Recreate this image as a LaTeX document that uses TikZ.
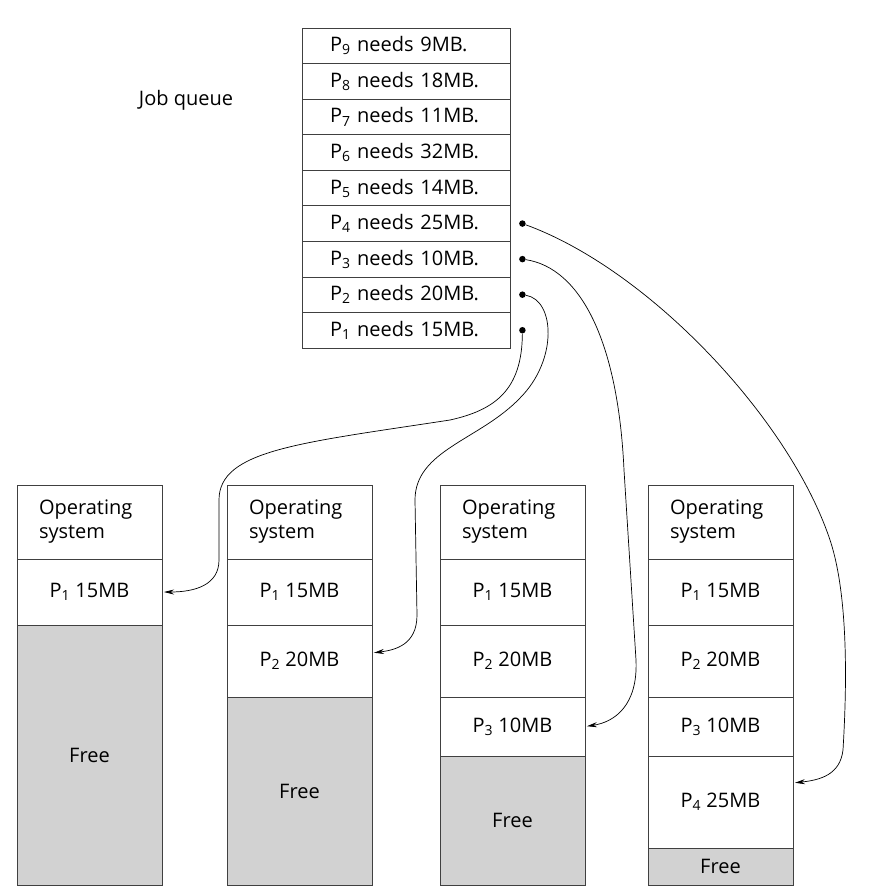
\documentclass[tikz,border=0pt]{standalone}
\usepackage{fontspec}
\setmainfont{Open Sans}
\usepackage{tikz}
\usetikzlibrary{positioning, arrows.meta, calc}

\begin{document}
\begin{tikzpicture}[x=1pt, y=-1pt,
        every node/.style={font=\fontsize{20}{24}\selectfont},
        jobrow/.style={draw=black!75, line width=0.8pt, text width=152pt, inner xsep=28pt, inner ysep=0pt, minimum height=35.55pt, align=left},
        memblock/.style={draw=black!75, line width=0.8pt, minimum width=145pt, inner sep=0pt, outer sep=0pt},
        osblock/.style={memblock, text width=101pt, inner xsep=22pt, align=left, minimum height=74pt, anchor=north},
        freeblock/.style={memblock, fill=gray!35},
        qdot/.style={circle, fill=black, inner sep=0pt, minimum size=6.5pt},
        conn/.style={-{Stealth[length=10pt, width=5pt]}, line width=0.7pt, shorten >=2pt}
      ]
      \useasboundingbox (0,0) rectangle (877,892);

      \node (qlabel) at (186,100) {Job queue};
      \foreach \k/\mb in {1/15, 2/20, 3/10, 4/25, 5/14, 6/32, 7/11, 8/18, 9/9}
        \node[jobrow] (q\k) at (406,{348-(\k-0.5)*35.55}) {P\textsubscript{\k} needs \mb MB.};
      \foreach \k in {1,...,4}
        \node[qdot] (d\k) at ([xshift=12pt]q\k.east) {};

      \node[osblock] (c1os) at (89.5,485) {Operating\\system};
      \node[memblock, below=0pt of c1os, minimum height=66pt] (c1p1) {P\textsubscript{1} 15MB};
      \node[freeblock, below=0pt of c1p1, minimum height=260pt] (c1free) {Free};

      \node[osblock] (c2os) at (299.5,485) {Operating\\system};
      \node[memblock, below=0pt of c2os, minimum height=66pt] (c2p1) {P\textsubscript{1} 15MB};
      \node[memblock, below=0pt of c2p1, minimum height=72pt] (c2p2) {P\textsubscript{2} 20MB};
      \node[freeblock, below=0pt of c2p2, minimum height=188pt] (c2free) {Free};

      \node[osblock] (c3os) at (512.5,485) {Operating\\system};
      \node[memblock, below=0pt of c3os, minimum height=66pt] (c3p1) {P\textsubscript{1} 15MB};
      \node[memblock, below=0pt of c3p1, minimum height=72pt] (c3p2) {P\textsubscript{2} 20MB};
      \node[memblock, below=0pt of c3p2, minimum height=59pt] (c3p3) {P\textsubscript{3} 10MB};
      \node[freeblock, below=0pt of c3p3, minimum height=129pt] (c3free) {Free};

      \node[osblock] (c4os) at (720.5,485) {Operating\\system};
      \node[memblock, below=0pt of c4os, minimum height=66pt] (c4p1) {P\textsubscript{1} 15MB};
      \node[memblock, below=0pt of c4p1, minimum height=72pt] (c4p2) {P\textsubscript{2} 20MB};
      \node[memblock, below=0pt of c4p2, minimum height=59pt] (c4p3) {P\textsubscript{3} 10MB};
      \node[memblock, below=0pt of c4p3, minimum height=92pt] (c4p4) {P\textsubscript{4} 25MB};
      \node[freeblock, below=0pt of c4p4, minimum height=37pt] (c4free) {Free};

      \draw[conn] (d1) .. controls (522,390) and (495,410) .. (450,420)
        .. controls (300,443) and (219,450) .. (219,500)
        -- (219,560) .. controls (219,585) and (195,592) .. (c1p1.east);
      \draw[conn] (d2) .. controls (555,300) and (558,360) .. (520,398)
        .. controls (480,440) and (415,450) .. (415,500)
        -- (417,615) .. controls (417,645) and (395,650) .. ([yshift=8pt]c2p2.east);
      \draw[conn] (d3) .. controls (580,268) and (618,340) .. (624,470)
        -- (636,660) .. controls (638,705) and (615,722) .. (c3p3.east);
      \draw[conn] (d4) .. controls (650,270) and (790,420) .. (830,540)
        .. controls (850,600) and (846,700) .. (843,750)
        .. controls (840,775) and (820,780) .. ([yshift=19pt]c4p4.east);
    \end{tikzpicture}
\end{document}
